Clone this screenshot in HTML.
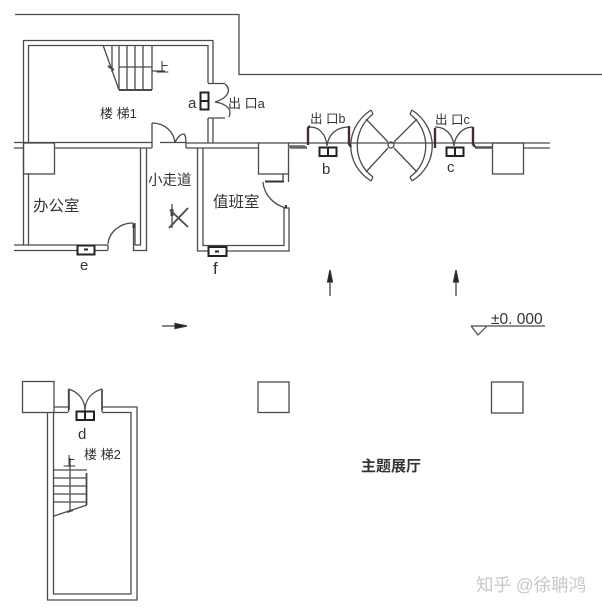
<!DOCTYPE html>
<html><head><meta charset="utf-8"><style>
html,body{margin:0;padding:0;background:#fff}
svg{display:block;filter:blur(0.35px)}
text{font-family:"Liberation Sans","Noto Sans CJK SC",sans-serif;fill:#333}
</style></head><body>
<svg width="602" height="611" viewBox="0 0 602 611" xmlns="http://www.w3.org/2000/svg">
<rect width="602" height="611" fill="#fff"/>
<g fill="none" stroke="#4a4a4a" stroke-width="1.3">
<!-- boundary -->
<path d="M15 14.500H239V74.500H602"/>
<!-- stair room 1 -->
<path d="M23.500 245V40.500H213V83M208 83V45.500H28.500V143M208 118V143M213 118V143"/>
<path d="M28.500 173V245"/>
<path d="M208 83.500H225M208 118H225"/>
<path d="M225 84C232 90 228 98 215 102C228 104 232 110 229 117"/>
<!-- main horizontal walls -->
<path d="M14 142.500H152M14 148H23M54 148H152M186 143H258M186 148H258M288 143H308M160 142.500H186"/>
<path d="M152 123V148M152 123C165 123 174 132 175 143M175 143C177 137 181 134 184 134C186 136 186 140 186 148"/>
<!-- columns -->
<rect x="23.500" y="143" width="31" height="31"/>
<rect x="258.500" y="143" width="30" height="31"/>
<rect x="492.500" y="143" width="31" height="31"/>
<rect x="22.500" y="381.500" width="31.500" height="31"/>
<rect x="258" y="382" width="31" height="30.500"/>
<rect x="491.500" y="382" width="31.500" height="31"/>
<!-- office -->
<path d="M14 245H77M14 250.500H77M95 245H108M95 250.500H108"/>
<path d="M108 245V250M108 244C109 232 120 223 133 223"/>
<path d="M140.500 148V245H135V223M133.500 223V250.500H146.500V148"/>
<!-- duty room -->
<path d="M197.500 148V251H208M203 148V245.500H284V208H289V251H227M203 245.500H208"/>
<path d="M263 182C264 195 274 205 286 208"/>
<path d="M283 174V182M288.500 174V182"/>
<!-- right horizontal -->
<path d="M308 143H550M523 148H550"/>
<!-- exit b -->
<path d="M310 127C320 127 326 135 327 146C328 135 336 127 349 127"/>
<!-- exit c -->
<path d="M435 127C446 127 453 135 454 146C455 135 463 127 473 127"/>
<!-- revolving door -->
<path d="M366 119L388 142M366 172L388 148M417 119L394 142M417 172L394 148"/>
<circle cx="391" cy="145" r="3"/>
<path d="M371 110C344 128 344 164 371 181M373 114C352 130 352 162 373 177M371 110L373 114M371 181L373 177"/>
<path d="M412 110C439 128 439 164 412 181M410 114C431 130 431 162 410 177M412 110L410 114M412 181L410 177"/>
<!-- stair room 2 -->
<path d="M47.500 412V600H137V407H102M53.500 412V594H131V412.500H102M54 407H68M54 412.500H68"/>
<path d="M102 389V412M68.500 389V412"/>
<path d="M68.500 389C78 392 85 399 85 411C85 399 92 392 102 389"/>
<!-- stairs 2 -->
<path d="M54 470H87M54 478H87M54 486H87M54 494H87M54 502H87M54 516L87 505M70 458V512"/>
<path d="M86.500 473V505" stroke-width="1.8"/>
<path d="M67 512L73 510" stroke-width="2"/>
<!-- stairs 1 -->
<path d="M103 45L119 90M112 45V72M119 45V90M127 45V90M135 45V90M143 45V90M152 45V90M119 67H152M152 71H165"/>
<path d="M119 90H152" stroke-width="2"/>
<path d="M108 66L114 70" stroke-width="2"/>
<!-- sign -->
<path d="M169 228L188 208M170 210L188 227" stroke-width="1.8"/>
<path d="M172 204V228"/>
<path d="M172 209V216" stroke-width="3"/>
<!-- level -->
<path d="M471 326H545M471 326L478 335L487 326" stroke-width="1.2"/>
</g>
<!-- thick pieces -->
<g fill="none" stroke="#333" stroke-width="2.4">
<path d="M288 146.500H305M290 147.500H307" stroke="#666"/>
<path d="M475 147.500H492" stroke="#555"/>
<path d="M308 145V128L310 126M349 126V144L351 147M435 148V128M473 127V144L475 147" stroke="#4a2a30"/>
<path d="M265 181.500H284" stroke-width="2"/>
<path d="M133.500 228V224M286 208V205" stroke-width="2"/>
<path d="M69 390V410M102 390V410" stroke="#5a3a40" stroke-width="1.6"/>
</g>
<!-- device boxes -->
<g fill="#fff" stroke="#222" stroke-width="2">
<rect x="200.500" y="92.500" width="8" height="17"/>
<path d="M200.500 101H208.500" fill="none"/>
<rect x="77.500" y="245.500" width="17" height="9"/>
<rect x="208.500" y="247" width="18" height="9"/>
<rect x="319.500" y="147.500" width="17" height="8.500"/>
<path d="M328 147.500V156" fill="none"/>
<rect x="446.500" y="147.500" width="17" height="8.500"/>
<path d="M455 147.500V156" fill="none"/>
<rect x="76.500" y="411.500" width="17.500" height="8.500"/>
<path d="M85 411.500V420" fill="none"/>
</g>
<path d="M84 249.500H88M215 251.500H219" stroke="#222" stroke-width="2"/>
<!-- arrows -->
<g stroke="#333" stroke-width="1.2" fill="#222">
<path d="M330 296V278" fill="none"/><path d="M330 270L327.500 282H332.500Z"/>
<path d="M456 296V278" fill="none"/><path d="M456 270L453.500 282H458.500Z"/>
<path d="M162 326H178" fill="none"/><path d="M187 326L175 323.500V328.500Z"/>
</g>
<!-- labels -->
<g font-size="13">
<text x="100" y="118">楼 梯1</text>
<text x="33" y="211" font-size="15.500">办公室</text>
<text x="213" y="207" font-size="15.500">值班室</text>
<text x="148" y="185" font-size="14.500">小走道</text>
<text x="84" y="459" font-size="13">楼 梯2</text>
<text x="228" y="108" font-size="13">出 口a</text>
<text x="310" y="123" font-size="12.500">出 口b</text>
<text x="435" y="124" font-size="12.500">出 口c</text>
<text x="156" y="72" font-size="13">上</text>
<text x="63" y="466" font-size="13">上</text>
<text x="361" y="471" font-size="15" font-weight="bold" fill="#222">主题展厅</text>
<text x="188" y="108" font-size="15">a</text>
<text x="80" y="270" font-size="15">e</text>
<text x="213" y="274" font-size="17">f</text>
<text x="322" y="174" font-size="15">b</text>
<text x="447" y="172" font-size="15">c</text>
<text x="78" y="439" font-size="15">d</text>
<text x="491" y="324" font-size="15.500">±0. 000</text>
</g>
<text x="476" y="591" font-size="17.500" style="fill:#c8c8c8">知乎 @徐聃鸿</text>
</svg>
</body></html>
